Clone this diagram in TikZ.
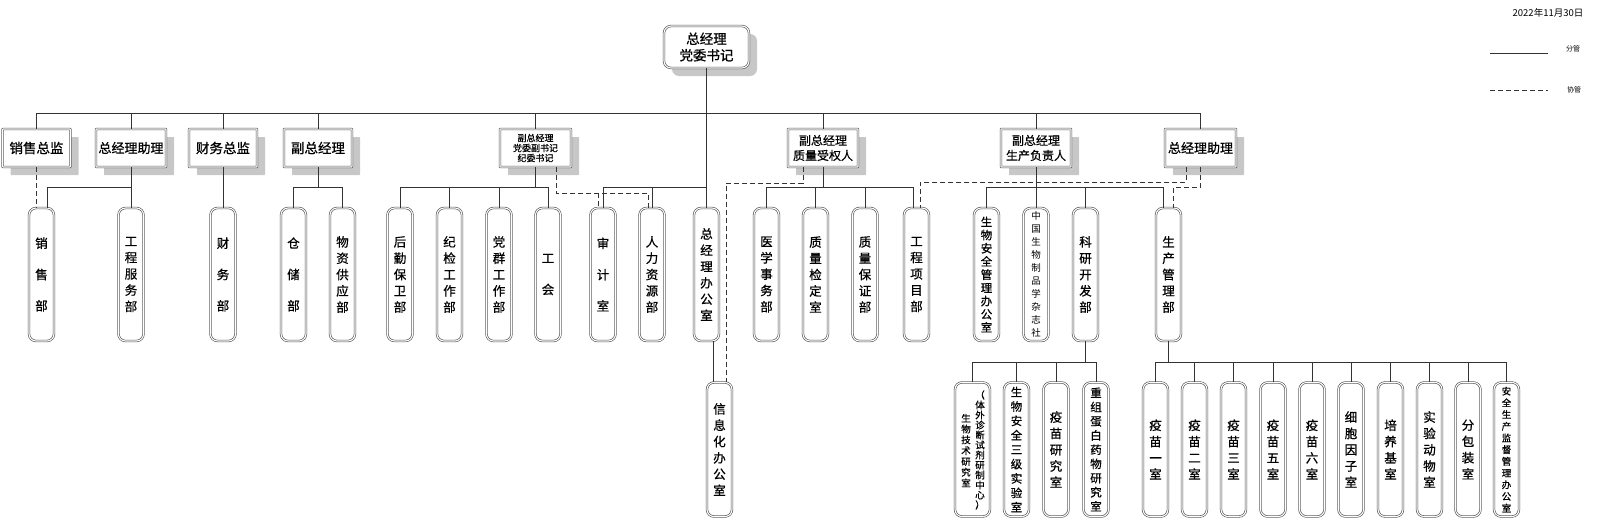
\documentclass[tikz,border=0pt]{standalone}
\usepackage{fontspec}
\newfontfamily\cjk{Noto Sans CJK SC}[FakeBold=0.8]
\newfontfamily\cjkl{Noto Sans CJK SC}
\tikzset{
	topbox/.style={draw=black!70,line width=0.6pt,double=white,double distance=1.1pt,fill=white,
		rounded corners=0.6pt,minimum width=68pt,minimum height=38pt,inner sep=0pt,align=center,
		font=\cjk\fontsize{13.5}{16.5}\selectfont,
		preaction={draw=none,fill=black!22,transform canvas={xshift=8pt,yshift=-8pt}}},
	dept/.style={draw=black!70,line width=0.6pt,double=white,double distance=1.1pt,fill=white,
		rounded corners=7pt,minimum width=25pt,minimum height=133pt,inner sep=0pt,align=center,
		font=\cjk\fontsize{12.5}{16.3}\selectfont},
	room/.style={dept,minimum height=134pt},
	fg/.style={line width=0.9pt,draw=black!80},
	xg/.style={line width=0.8pt,draw=black!80,dash pattern=on 5pt off 3pt},
}
\begin{document}
\begin{tikzpicture}[x=1pt,y=-1pt]
	\useasboundingbox (0,0) rectangle (1600,528);
	%%top
	\node[topbox,rounded corners=7pt,minimum width=85pt,minimum height=42pt] (zjl) at (706.5,47) {总经理\\党委书记};

	%%the leaders
	\node[topbox] (xszj) at (36.5,148) {销售总监};
	\node[topbox,minimum width=70pt,font=\cjk\fontsize{13}{16}\selectfont] (zjlzl) at (131,148) {总经理助理};
	\node[topbox] (cwzj) at (223,148) {财务总监};
	\node[topbox] (fzjl) at (318,148) {副总经理};
	\node[topbox,minimum width=71pt,font=\cjk\fontsize{9}{10}\selectfont] (fsj) at (535.5,148) {副总经理\\党委副书记\\纪委书记};
	\node[topbox,minimum width=70pt,font=\cjk\fontsize{12}{15}\selectfont] (zlsq) at (823,148) {副总经理\\质量受权人};
	\node[topbox,minimum width=70pt,font=\cjk\fontsize{12}{15}\selectfont] (scfz) at (1036,148) {副总经理\\生产负责人};
	\node[topbox,minimum width=71pt,font=\cjk\fontsize{13}{16}\selectfont] (zjlzl2) at (1200.5,148) {总经理助理};

	%%the departments
	\node[dept] (xsb) at (41.5,274.5) {销\\[15pt]售\\[15pt]部};
	\node[dept] (gcfwb) at (131,274.5) {工\\程\\服\\务\\部};
	\node[dept] (cwb) at (223,274.5) {财\\[15pt]务\\[15pt]部};
	\node[dept] (ccb) at (293.5,274.5) {仓\\[15pt]储\\[15pt]部};
	\node[dept] (wzgyb) at (342.5,274.5) {物\\资\\供\\应\\部};
	\node[dept] (hqbwb) at (400,274.5) {后\\勤\\保\\卫\\部};
	\node[dept] (jjgzb) at (449.5,274.5) {纪\\检\\工\\作\\部};
	\node[dept] (dqgzb) at (499,274.5) {党\\群\\工\\作\\部};
	\node[dept] (gh) at (548,274.5) {工\\[15pt]会};
	\node[dept] (sjs) at (603,274.5) {审\\[15pt]计\\[15pt]室};
	\node[dept] (rlzyb) at (652,274.5) {人\\力\\资\\源\\部};
	\node[dept] (zjlbgs) at (706.5,274.5) {总\\经\\理\\办\\公\\室};
	\node[dept] (yxswb) at (766.5,274.5) {医\\学\\事\\务\\部};
	\node[dept] (zljds) at (815.5,274.5) {质\\量\\检\\定\\室};
	\node[dept] (zlbzb) at (865,274.5) {质\\量\\保\\证\\部};
	\node[dept] (gcxmb) at (916.5,274.5) {工\\程\\项\\目\\部};
	\node[dept,font=\cjk\fontsize{11.5}{13.2}\selectfont] (swaq) at (986.5,274.5) {生\\物\\安\\全\\管\\理\\办\\公\\室};
	\node[dept,font=\cjkl\fontsize{9.5}{13}\selectfont] (zgsw) at (1036,274.5) {中\\国\\生\\物\\制\\品\\学\\杂\\志\\社};
	\node[dept] (kykfb) at (1085.5,274.5) {科\\研\\开\\发\\部};
	\node[dept] (scglb) at (1168.5,274.5) {生\\产\\管\\理\\部};

	%%the rooms
	\node[room] (xxhbgs) at (719.5,449.5) {信\\息\\化\\办\\公\\室};
	\node[room,minimum width=35pt] (swjs) at (972.5,449.5) {};
		\node[font=\cjk\fontsize{9.5}{10.8}\selectfont,align=center,inner sep=0pt] (swjsa) at (966,450.5) {生\\物\\技\\术\\研\\究\\室};
		\node[font=\cjk\fontsize{9.5}{10}\selectfont,align=center,inner sep=0pt] (swjsb) at (980,450) {（\\体\\外\\诊\\断\\试\\剂\\研\\制\\中\\心\\）};
	\node[room,font=\cjk\fontsize{11.5}{14.4}\selectfont] (swaq3) at (1016.5,449.5) {生\\物\\安\\全\\三\\级\\实\\验\\室};
	\node[room] (ymyjs) at (1056,449.5) {疫\\苗\\研\\究\\室};
	\node[room,font=\cjk\fontsize{11.5}{14.2}\selectfont] (czdb) at (1096,449.5) {重\\组\\蛋\\白\\药\\物\\研\\究\\室};
	\node[room] (ym1) at (1155.5,449.5) {疫\\苗\\一\\室};
	\node[room] (ym2) at (1194.5,449.5) {疫\\苗\\二\\室};
	\node[room] (ym3) at (1233.5,449.5) {疫\\苗\\三\\室};
	\node[room] (ym5) at (1273,449.5) {疫\\苗\\五\\室};
	\node[room] (ym6) at (1312,449.5) {疫\\苗\\六\\室};
	\node[room] (xbyz) at (1351,449.5) {细\\胞\\因\\子\\室};
	\node[room] (pyj) at (1390.5,449.5) {培\\养\\基\\室};
	\node[room] (sydw) at (1429.5,449.5) {实\\验\\动\\物\\室};
	\node[room] (fbz) at (1468,449.5) {分\\包\\装\\室};
	\node[room,font=\cjk\fontsize{9.5}{11.7}\selectfont] (aqsc) at (1506.5,449.5) {安\\全\\生\\产\\监\\督\\管\\理\\办\\公\\室};

	%%draw the lines from the top
	\coordinate (bus) at (706.5,113);
	\draw[fg] (zjl.south) -- (zjlbgs.north);
	\foreach \d in {xszj,zjlzl,cwzj,fzjl,fsj,zlsq,scfz,zjlzl2}
		\draw[fg] (bus) -| (\d.north);
	\draw[fg] (zjl.south) -- ++(0,119) -| (sjs.north);
	\draw[fg] (zjl.south) -- ++(0,119) -| (rlzyb.north);

	%%sales and the assistant
	\draw[xg] (xszj.south) -- (xszj.south |- xsb.north);
	\draw[fg] (zjlzl.south) -- ++(0,20) -| ([xshift=5.5pt]xsb.north);
	\draw[fg] (zjlzl.south) -- (gcfwb.north);
	\draw[fg] (cwzj.south) -- (cwb.north);
	\draw[fg] (fzjl.south) -- ++(0,20) -| (ccb.north);
	\draw[fg] (fzjl.south) -- ++(0,20) -| (wzgyb.north);

	%%party secretary
	\foreach \d in {hqbwb,jjgzb,dqgzb,gh}
		\draw[fg] (fsj.south) -- ++(0,20) -| (\d.north);
	\coordinate (fsjx) at ([xshift=20.5pt,yshift=-26pt]fsj.south);
	\coordinate (sjsx) at ([xshift=-5pt]sjs.north);
	\draw[xg] (fsjx |- fsj.south) -- (fsjx) -| ([xshift=-4pt]rlzyb.north);
	\draw[xg] (sjsx |- fsjx) -- (sjsx);

	%%quality
	\foreach \d in {yxswb,zljds,zlbzb}
		\draw[fg] (zlsq.south) -- ++(0,20) -| (\d.north);
	\draw[fg] (zlsq.south) -- ++(0,20) -| ([xshift=-3.5pt]gcxmb.north);
	\draw[xg] ([xshift=-20pt]zlsq.south) -- ++(0,16) -| ([xshift=6.5pt]xxhbgs.north);
	\draw[fg] ([xshift=6.5pt]zjlbgs.south) -- ([xshift=-6.5pt]xxhbgs.north);

	%%production
	\foreach \d in {swaq,zgsw,kykfb}
		\draw[fg] (scfz.south) -- ++(0,20) -| (\d.north);
	\draw[fg] (scfz.south) -- ++(0,20) -| ([xshift=-5.5pt]scglb.north);
	\draw[xg] ([xshift=-14.5pt]zjlzl2.south) -- ++(0,15) -| ([xshift=3.5pt]gcxmb.north);
	\draw[xg] (zjlzl2.south) -- ++(0,20) -| ([xshift=4.5pt]scglb.north);

	%%the rooms
	\foreach \d in {swjs,swaq3,ymyjs,czdb}
		\draw[fg] (kykfb.south) -- ++(0,21) -| (\d.north);
	\foreach \d in {ym1,ym2,ym3,ym5,ym6,xbyz,pyj,sydw,fbz,aqsc}
		\draw[fg] (scglb.south) -- ++(0,21) -| (\d.north);
	\draw[fg,line width=1.6pt] (scglb.south) -- ++(0,21);

	%%legend
	\node[font=\cjkl\fontsize{9.5}{11}\selectfont] (date) at (1548,13) {2022年11月30日};
	\coordinate (fga) at (1490,53);
	\coordinate (fgb) at (1548,53);
	\draw[fg] (fga) -- (fgb);
	\node[font=\cjkl\fontsize{7}{8}\selectfont] (fgt) at (1573,49) {分管};
	\coordinate (xga) at (1490,90);
	\coordinate (xgb) at (1548,90);
	\draw[xg] (xga) -- (xgb);
	\node[font=\cjkl\fontsize{7}{8}\selectfont] (xgt) at (1574,90) {协管};
\end{tikzpicture}
\end{document}
